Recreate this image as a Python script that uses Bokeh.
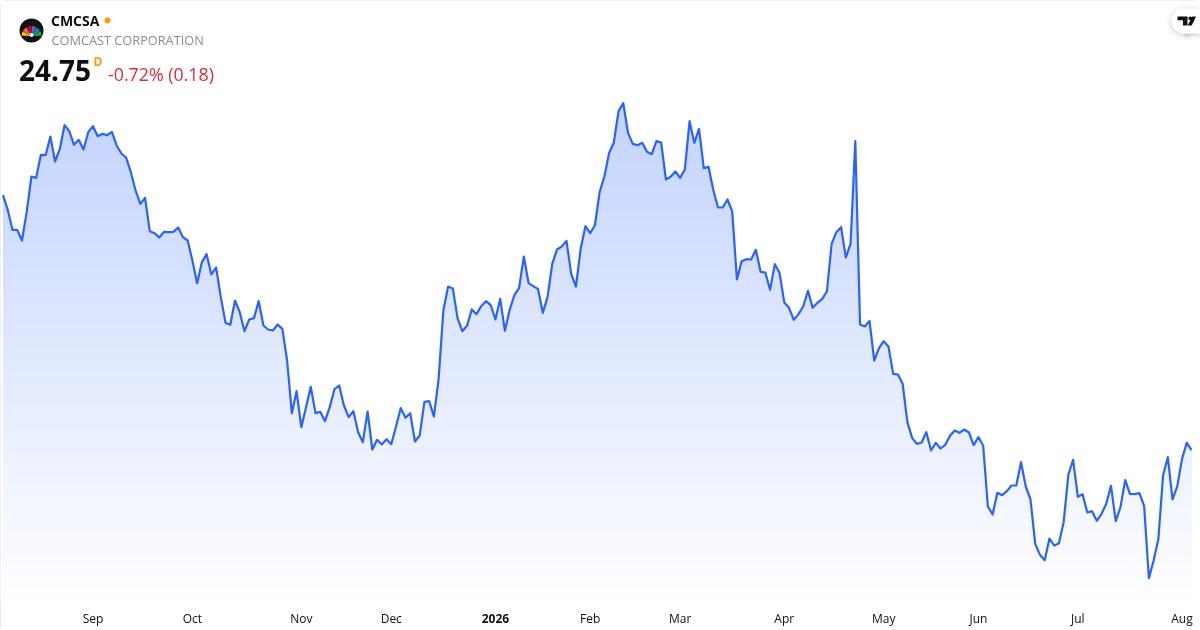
from bokeh.plotting import figure
from bokeh.models import FixedTicker, Label, Range1d, LinearAxis
from bokeh.embed import file_html
from bokeh.resources import INLINE
import numpy as np

symbol = "CMCSA"
company = "COMCAST CORPORATION"
last_price = "24.75"
interval = "D"
change_text = "-0.72% (0.18)"

tick_index = [19, 40, 63, 82, 124, 143, 165, 186, 206, 227, 249]
tick_labels = ["Sep", "Oct", "Nov", "Dec", "Feb", "Mar", "Apr", "May", "Jun", "Jul", "Aug"]
year_index = 104
year_label = "2026"

closes = [
    32.40, 31.96, 31.36, 31.36, 31.04, 31.89, 32.96, 32.92, 33.61, 33.60,
    34.16, 33.41, 33.79, 34.50, 34.32, 33.91, 34.06, 33.77, 34.29, 34.47,
    34.17, 34.24, 34.20, 34.30, 33.89, 33.65, 33.53, 33.09, 32.54, 32.14,
    32.32, 31.32, 31.26, 31.13, 31.30, 31.29, 31.30, 31.43, 31.14, 31.04,
    30.44, 29.76, 30.39, 30.63, 30.02, 30.23, 29.34, 28.57, 28.51, 29.24,
    28.89, 28.32, 28.67, 28.71, 29.22, 28.49, 28.37, 28.34, 28.52, 28.39,
    27.44, 25.86, 26.52, 25.44, 26.04, 26.65, 25.86, 25.90, 25.62, 26.04,
    26.58, 26.69, 26.09, 25.74, 25.92, 25.29, 24.99, 25.91, 24.77, 25.06,
    24.92, 25.08, 24.93, 25.46, 26.01, 25.72, 25.86, 25.01, 25.19, 26.20,
    26.22, 25.76, 26.89, 28.94, 29.66, 29.60, 28.71, 28.32, 28.48, 28.97,
    28.83, 29.07, 29.22, 29.10, 28.67, 29.29, 28.33, 28.96, 29.40, 29.62,
    30.56, 29.76, 29.67, 29.58, 28.87, 29.34, 30.34, 30.77, 30.86, 31.03,
    30.04, 29.66, 30.79, 31.47, 31.26, 31.49, 32.49, 32.96, 33.66, 33.98,
    34.92, 35.16, 34.27, 33.94, 33.90, 33.97, 33.70, 33.63, 34.02, 33.98,
    32.87, 32.95, 33.11, 32.92, 33.17, 34.62, 33.97, 34.39, 33.21, 33.25,
    32.56, 32.03, 32.03, 32.27, 31.92, 29.87, 30.42, 30.48, 30.47, 30.76,
    30.10, 30.08, 29.56, 30.33, 30.07, 29.18, 29.02, 28.66, 28.83, 29.06,
    29.53, 29.02, 29.17, 29.29, 29.51, 30.94, 31.29, 31.44, 30.53, 30.94,
    34.02, 28.52, 28.46, 28.63, 27.44, 27.81, 28.02, 27.86, 27.04, 27.02,
    26.74, 25.59, 25.12, 24.94, 24.98, 25.29, 24.74, 24.97, 24.80, 24.91,
    25.18, 25.34, 25.27, 25.37, 25.28, 24.90, 25.14, 24.89, 23.06, 22.82,
    23.47, 23.40, 23.52, 23.69, 23.69, 24.39, 23.66, 23.27, 21.94, 21.61,
    21.45, 22.10, 21.89, 21.96, 22.59, 24.02, 24.46, 23.35, 23.43, 22.88,
    22.92, 22.63, 22.84, 23.14, 23.68, 22.62, 23.04, 23.85, 23.44, 23.43,
    23.46, 23.08, 20.91, 21.44, 22.08, 23.99, 24.54, 23.27, 23.67, 24.49,
    24.97, 24.75,
]

W, H = 1200, 630
FRAME_H = 604
STEP_X = 4.735
X0 = 2.5
TOP_PRICE = 38.24
PER_PX = 0.03

def px_x(px):
    return (px - X0) / STEP_X

def px_y(py):
    return TOP_PRICE - PER_PX * py

FONT = "Open Sans"
LINE = "#2962ff"
INK = "#0f0f0f"

p = figure(width=W, height=H, output_backend="svg", toolbar_location=None,
           x_range=Range1d(px_x(0), px_x(W)),
           y_range=Range1d(px_y(FRAME_H), px_y(0)),
           min_border=0, min_border_left=0, min_border_right=0, min_border_top=0,
           min_border_bottom=H - FRAME_H, y_axis_location=None,
           background_fill_color="white", border_fill_color="white",
           outline_line_color=None)
p.styles = {"position": "fixed", "left": "0px", "top": "0px",
            "outline": "1px solid #e0e3eb", "outline-offset": "-1px",
            "border-radius": "5px"}
p.grid.visible = False

def style_axis(ax, weight, standoff):
    ax.axis_line_color = None
    ax.major_tick_line_color = None
    ax.minor_tick_line_color = None
    ax.major_tick_out = 0
    ax.major_tick_in = 0
    ax.minor_tick_out = 0
    ax.minor_tick_in = 0
    ax.major_label_text_font = FONT
    ax.major_label_text_font_size = "12px"
    ax.major_label_text_font_style = weight
    ax.major_label_text_color = INK
    ax.major_label_standoff = standoff

ax = p.xaxis[0]
ax.ticker = FixedTicker(ticks=tick_index)
ax.major_label_overrides = dict(zip(tick_index, tick_labels))
style_axis(ax, "normal", 5)

year_ax = LinearAxis(ticker=FixedTicker(ticks=[year_index]),
                     major_label_overrides={year_index: year_label})
style_axis(year_ax, "bold", -16)
p.add_layout(year_ax, "below")

# gradient under the line, painted as opaque bands from the top down
idx = np.arange(len(closes))
prices = np.array(closes)
base = px_y(FRAME_H)
GRAD_TOP, GRAD_BOT = 102, 606
A_TOP = 0.28
for top in range(100, FRAME_H, 4):
    t = min(max((top + 2 - GRAD_TOP) / (GRAD_BOT - GRAD_TOP), 0), 1)
    a = A_TOP * (1 - t)
    col = "#%02x%02x%02x" % (round(255 - (255 - 41) * a), round(255 - (255 - 98) * a), 255)
    p.varea(idx, base, np.minimum(prices, px_y(top)), fill_color=col, fill_alpha=1)

p.line(idx, prices, line_color=LINE, line_width=2.2, line_join="round")

# header logo
p.scatter([px_x(31)], [px_y(30)], size=24, marker="circle", fill_color="#131313", line_color=None)
feathers = ["#fcb711", "#f37021", "#cc004c", "#6460aa", "#0089d0", "#0db14b"]
for i, c in enumerate(feathers):
    a0 = np.pi - (i + 1) * np.pi / 6
    p.wedge([px_x(31)], [px_y(35.5)], radius=10, radius_units="screen",
            start_angle=a0 + 0.03, end_angle=a0 + np.pi / 6 - 0.03,
            fill_color=c, line_color=None)
p.scatter([px_x(31)], [px_y(34.5)], size=4, marker="circle", fill_color="white", line_color=None)

# status dot
p.scatter([px_x(107)], [px_y(20)], size=6, marker="circle", fill_color="#ff9800", line_color=None)

# corner badge
for grow, alpha in [(6, 0.012), (4, 0.02), (2, 0.03), (1, 0.04)]:
    p.scatter([px_x(1183.5)], [px_y(22)], size=25 + 2 * grow, marker="circle",
              fill_color="#131722", fill_alpha=alpha, line_color=None)
    p.quad(left=px_x(1184), right=px_x(1200), top=px_y(9.5 - grow), bottom=px_y(34.5 + grow),
           fill_color="#131722", fill_alpha=alpha, line_color=None)
p.scatter([px_x(1183.5)], [px_y(20.5)], size=25, marker="circle", fill_color="white", line_color=None)
p.quad(left=px_x(1183.5), right=px_x(1200), top=px_y(8), bottom=px_y(33),
       fill_color="white", line_color=None)
p.patch([px_x(v) for v in (1177, 1187, 1187, 1182.5, 1182.5, 1177)],
        [px_y(v) for v in (16, 16, 25, 25, 19.7, 19.7)],
        fill_color=INK, line_color=None)
p.scatter([px_x(1189.8)], [px_y(17.8)], size=3.8, marker="circle", fill_color=INK, line_color=None)
p.patch([px_x(v) for v in (1191.8, 1195.5, 1191.2, 1187.2)],
        [px_y(v) for v in (16, 16, 25, 25)],
        fill_color=INK, line_color=None)

def label(text, x, y, size, color, style="normal"):
    # canvas y runs down from the page top; the renderer sets the baseline about 0.41em lower
    p.add_layout(Label(x=x, y=y - 0.41 * size, text=text,
                       x_units="canvas", y_units="canvas",
                       text_font=FONT, text_font_size="%gpx" % size, text_color=color,
                       text_font_style=style, text_align="left", text_baseline="alphabetic",
                       level="overlay"))

label(symbol, 50.5, 26, 14, INK, "bold")
label(company, 51, 45, 12.75, "#8c8c8c")
label(last_price, 18.5, 81, 28, INK, "bold")
label(interval, 93, 65.7, 12, "#ff9800", "bold")
label(change_text, 107.5, 81, 17.8, "#d32f3f")

open("out.html", "w").write(file_html(p, INLINE))
